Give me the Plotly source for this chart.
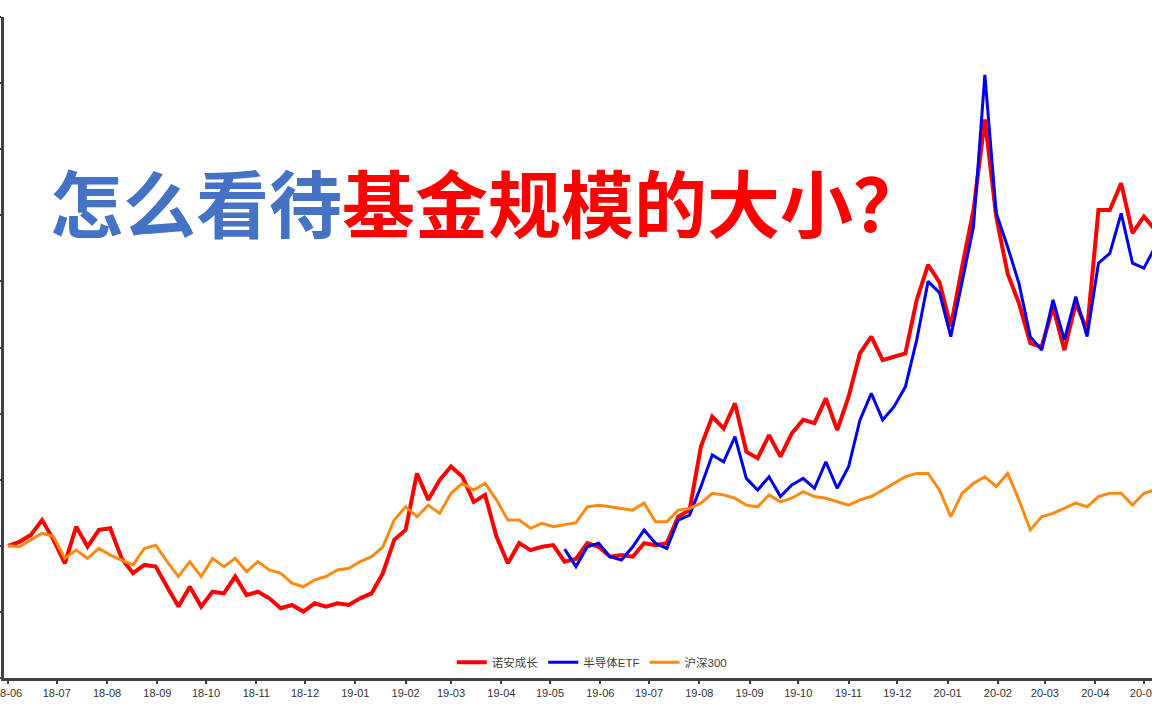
import pandas as pd
import plotly.graph_objects as go

# Weekly observation dates (Fridays) from 2018-06-01
dates = pd.date_range("2018-06-01", periods=102, freq="7D")

nuoan = [1.000, 1.012, 1.033, 1.078, 1.018, 0.947, 1.058, 0.997, 1.048, 1.053,
         0.962, 0.917, 0.942, 0.937, 0.876, 0.816, 0.876, 0.816, 0.861, 0.856,
         0.907, 0.851, 0.861, 0.841, 0.811, 0.821, 0.801, 0.826, 0.816, 0.826,
         0.821, 0.841, 0.856, 0.917, 1.018, 1.048, 1.219, 1.139, 1.199, 1.240,
         1.209, 1.133, 1.154, 1.028, 0.947, 1.008, 0.987, 0.997, 1.002, 0.952,
         0.960, 1.008, 0.997, 0.967, 0.972, 0.967, 1.008, 1.002, 1.008, 1.088,
         1.108, 1.300, 1.391, 1.355, 1.431, 1.285, 1.265, 1.335, 1.270, 1.340,
         1.381, 1.371, 1.446, 1.350, 1.451, 1.582, 1.633, 1.562, 1.572, 1.582,
         1.744, 1.850, 1.798, 1.663, 1.845, 2.016, 2.290, 1.996, 1.824, 1.734,
         1.613, 1.602, 1.723, 1.592, 1.734, 1.653, 2.016, 2.016, 2.097, 1.946,
         1.996, 1.956]

semi_start = 49
semi_etf = [0.990, 0.937, 0.997, 1.008, 0.967, 0.957, 0.997, 1.048, 1.008, 0.992,
            1.078, 1.093, 1.179, 1.275, 1.254, 1.330, 1.204, 1.169, 1.209, 1.149,
            1.184, 1.204, 1.174, 1.254, 1.174, 1.239, 1.380, 1.461, 1.381, 1.421,
            1.481, 1.623, 1.800, 1.766, 1.633, 1.804, 1.966, 2.425, 2.006, 1.905,
            1.794, 1.633, 1.592, 1.744, 1.623, 1.754, 1.633, 1.855, 1.885, 2.006,
            1.855, 1.840, 1.905]

hs300 = [1.000, 0.997, 1.018, 1.038, 1.028, 0.962, 0.987, 0.962, 0.992, 0.972,
         0.957, 0.942, 0.992, 1.002, 0.952, 0.907, 0.952, 0.907, 0.962, 0.937,
         0.962, 0.922, 0.952, 0.927, 0.917, 0.887, 0.876, 0.897, 0.907, 0.927,
         0.932, 0.952, 0.967, 0.997, 1.078, 1.118, 1.088, 1.123, 1.098, 1.159,
         1.189, 1.169, 1.189, 1.139, 1.078, 1.078, 1.053, 1.068, 1.058, 1.063,
         1.070, 1.118, 1.123, 1.118, 1.113, 1.108, 1.129, 1.073, 1.073, 1.108,
         1.113, 1.129, 1.159, 1.154, 1.144, 1.123, 1.118, 1.154, 1.133, 1.144,
         1.164, 1.149, 1.144, 1.133, 1.123, 1.139, 1.149, 1.169, 1.189, 1.209,
         1.219, 1.219, 1.169, 1.088, 1.159, 1.189, 1.209, 1.179, 1.219, 1.139,
         1.048, 1.088, 1.098, 1.113, 1.129, 1.118, 1.149, 1.159, 1.159, 1.123,
         1.159, 1.169]

series_names = ["诺安成长", "半导体ETF", "沪深300"]
title_part1 = "怎么看待"
title_part2 = "基金规模的大小？"

fig = go.Figure()
fig.add_trace(go.Scatter(x=dates, y=nuoan, mode="lines", name=series_names[0],
                         line=dict(color="#FF0000", width=4)))
fig.add_trace(go.Scatter(x=dates[semi_start:], y=semi_etf, mode="lines", name=series_names[1],
                         line=dict(color="#0000F0", width=3)))
fig.add_trace(go.Scatter(x=dates, y=hs300, mode="lines", name=series_names[2],
                         line=dict(color="#FF8A12", width=3)))

axis_font = dict(family="Liberation Sans, Arial, 'Noto Sans CJK SC'", size=11, color="#333333")

fig.update_layout(
    width=1152, height=720,
    margin=dict(l=4, r=0, t=17, b=42),
    paper_bgcolor="white", plot_bgcolor="white",
    font=axis_font,
    showlegend=True,
    legend=dict(orientation="h", x=0.512, xanchor="center", y=0.024, yanchor="middle",
                font=dict(family="Liberation Sans, 'Noto Sans CJK SC'", size=11.5, color="#404040"),
                bgcolor="rgba(0,0,0,0)", itemwidth=30),
    xaxis=dict(type="date", range=["2018-05-29 12:00", "2020-05-06"],
               tick0="2018-06-01", dtick="M1", tickformat="%y-%m",
               ticklabeloverflow="allow", automargin=False,
               showgrid=False, zeroline=False,
               showline=True, linewidth=3, linecolor="#404040",
               ticks="outside", ticklen=3, tickwidth=2, tickcolor="#404040",
               tickfont=axis_font),
    yaxis=dict(range=[0.6, 2.6], dtick=0.2, tick0=0.6, automargin=False,
               showgrid=False, zeroline=False, showticklabels=False,
               showline=True, linewidth=3, linecolor="#404040",
               ticks="outside", ticklen=3, tickwidth=2, tickcolor="#404040"),
)

title_text = ("<b><span style='color:#4472C4'>" + title_part1 + "</span>"
              "<span style='color:#FF0000'>" + title_part2 + "</span></b>")
fig.add_annotation(text=title_text, xref="paper", yref="paper", x=0.0385, y=0.723,
                   xanchor="left", yanchor="middle", showarrow=False,
                   font=dict(family="'Noto Sans CJK SC', 'Noto Sans CJK JP'", size=73))

fig.write_html("out.html")
